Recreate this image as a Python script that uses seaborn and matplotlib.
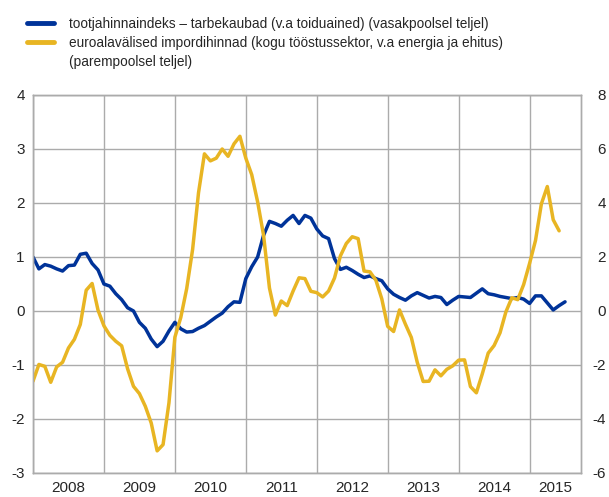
import numpy as np
import pandas as pd
import matplotlib
matplotlib.use("Agg")
import matplotlib.pyplot as plt
import seaborn as sns
from matplotlib.lines import Line2D

# ---------------- data (monthly, Jan 2008 onwards) ----------------
year_labels = ["2008", "2009", "2010", "2011", "2012", "2013", "2014", "2015"]

# producer price index - consumer goods excl. food (left axis)
ppi_consumer = [
    1.00, 0.78, 0.86, 0.83, 0.78, 0.74, 0.84, 0.85, 1.05, 1.07, 0.88, 0.76,
    0.50, 0.46, 0.32, 0.21, 0.06, 0.00, -0.21, -0.32, -0.52, -0.66, -0.56, -0.37,
    -0.21, -0.33, -0.39, -0.38, -0.32, -0.27, -0.19, -0.11, -0.04, 0.08, 0.17, 0.16,
    0.60, 0.82, 1.00, 1.40, 1.66, 1.62, 1.57, 1.68, 1.77, 1.62, 1.77, 1.72,
    1.52, 1.39, 1.34, 0.97, 0.77, 0.81, 0.75, 0.68, 0.62, 0.65, 0.60, 0.56,
    0.41, 0.31, 0.25, 0.20, 0.28, 0.34, 0.29, 0.24, 0.27, 0.25, 0.12, 0.20,
    0.27, 0.26, 0.25, 0.33, 0.41, 0.32, 0.30, 0.27, 0.25, 0.23, 0.25, 0.22,
    0.14, 0.28, 0.28, 0.15, 0.02, 0.10, 0.17,
]

# extra-euro area import prices (right axis)
import_prices = [
    -2.60, -1.98, -2.05, -2.64, -2.07, -1.90, -1.37, -1.05, -0.50, 0.77, 1.02, 0.03,
    -0.55, -0.90, -1.12, -1.29, -2.14, -2.79, -3.06, -3.53, -4.15, -5.18, -4.95, -3.40,
    -0.97, -0.24, 0.83, 2.28, 4.38, 5.82, 5.56, 5.66, 6.00, 5.73, 6.19, 6.47,
    5.66, 5.05, 4.04, 2.81, 0.85, -0.15, 0.37, 0.20, 0.74, 1.23, 1.20, 0.73,
    0.68, 0.52, 0.74, 1.22, 2.04, 2.50, 2.75, 2.68, 1.48, 1.45, 1.14, 0.45,
    -0.57, -0.76, 0.04, -0.49, -0.98, -1.90, -2.61, -2.60, -2.18, -2.40, -2.16, -2.03,
    -1.82, -1.81, -2.80, -3.03, -2.33, -1.56, -1.28, -0.81, -0.03, 0.49, 0.42, 0.98,
    1.76, 2.61, 3.97, 4.61, 3.38, 2.97,
]

label_ppi = "tootjahinnaindeks – tarbekaubad (v.a toiduained) (vasakpoolsel teljel)"
label_imp = "euroalavälised impordihinnad (kogu tööstussektor, v.a energia ja ehitus)"
label_imp2 = "(parempoolsel teljel)"

BLUE = "#003399"
YELLOW = "#E8B523"
GRID = "#ababab"

df1 = pd.DataFrame({"m": np.arange(len(ppi_consumer)), "v": ppi_consumer})
df2 = pd.DataFrame({"m": np.arange(len(import_prices)), "v": import_prices})

sns.set_style("white")
plt.rcParams["font.family"] = ["Liberation Sans", "DejaVu Sans"]
plt.rcParams["axes.unicode_minus"] = False

fig = plt.figure(figsize=(6.09, 4.97), dpi=100)
ax = fig.add_axes([33 / 609, 24 / 497, 548 / 609, 378 / 497])

sns.lineplot(data=df1, x="m", y="v", ax=ax, color=BLUE, lw=2.5)
ax2 = ax.twinx()
sns.lineplot(data=df2, x="m", y="v", ax=ax2, color=YELLOW, lw=2.5)

xmax = 92.7
ax.set_xlim(0, xmax)
ax.set_ylim(-3, 4)
ax2.set_ylim(-6, 8)
ax.set_yticks(range(-3, 5))
ax2.set_yticks(range(-6, 9, 2))

ax.set_xticks(np.arange(0, 85, 12))
ax.set_xticklabels([])
mids = [6 + 12 * k for k in range(7)] + [(84 + xmax) / 2]
ax.set_xticks(mids, minor=True)
ax.set_xticklabels(year_labels, minor=True)
ax.tick_params(axis="x", which="major", length=7, width=1, color=GRID, direction="out")
ax.tick_params(axis="x", which="minor", length=0, pad=6, labelsize=11)
ax.tick_params(axis="y", length=0, pad=6, labelsize=11)
ax2.tick_params(axis="y", length=0, pad=18, labelsize=11)
for lab in ax2.get_yticklabels():
    lab.set_horizontalalignment("right")

ax.grid(True, which="major", color=GRID, lw=1)
ax2.grid(False)
for a in (ax, ax2):
    a.set_xlabel("")
    a.set_ylabel("")
    for s in a.spines.values():
        s.set_color(GRID)
        s.set_linewidth(1)

handles = [Line2D([], [], color=BLUE, lw=3.5),
           Line2D([], [], color=YELLOW, lw=3.5),
           Line2D([], [], color="none", lw=0)]
fig.legend(handles, [label_ppi, label_imp, label_imp2], loc="upper left",
           bbox_to_anchor=(27 / 609, 1 - 17 / 497), frameon=False, fontsize=9.85,
           handlelength=2.0, handletextpad=1.05, labelspacing=0.36,
           borderpad=0, borderaxespad=0)

fig.savefig("out.png", dpi=100)
